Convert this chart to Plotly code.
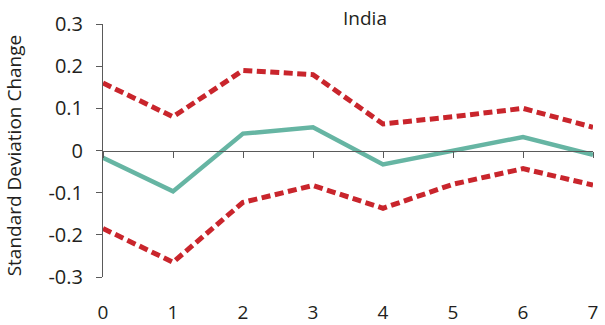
import plotly.graph_objects as go

horizon = [0, 1, 2, 3, 4, 5, 6, 7]
upper = [0.16, 0.08, 0.19, 0.18, 0.063, 0.08, 0.10, 0.055]
mid = [-0.017, -0.097, 0.04, 0.055, -0.033, 0.0, 0.032, -0.01]
lower = [-0.185, -0.265, -0.123, -0.083, -0.137, -0.08, -0.043, -0.082]

ytick_vals = [-0.3, -0.2, -0.1, 0, 0.1, 0.2, 0.3]
ytick_text = ["-0.3", "-0.2", "-0.1", "0", "0.1", "0.2", "0.3"]
xtick_vals = [0, 1, 2, 3, 4, 5, 6, 7]
xtick_text = ["0", "1", "2", "3", "4", "5", "6", "7"]

RED = "#c9252c"
TEAL = "#66b5a3"
AX = "#5a5a5a"
FONT = "Open Sans"

fig = go.Figure()
fig.add_trace(go.Scatter(x=horizon, y=upper, mode="lines",
                         line=dict(color=RED, width=5, dash="9px,4.5px"), hoverinfo="skip"))
fig.add_trace(go.Scatter(x=horizon, y=lower, mode="lines",
                         line=dict(color=RED, width=5, dash="9px,4.5px"), hoverinfo="skip"))
fig.add_trace(go.Scatter(x=horizon, y=mid, mode="lines",
                         line=dict(color=TEAL, width=4.5), hoverinfo="skip"))
# invisible trace to activate the zero-line axis
fig.add_trace(go.Scatter(x=horizon, y=[0] * len(horizon), xaxis="x2", mode="lines",
                         line=dict(width=0), opacity=0, hoverinfo="skip"))

fig.update_layout(
    width=605, height=325,
    margin=dict(l=103, r=12, t=24, b=48),
    paper_bgcolor="white", plot_bgcolor="white",
    showlegend=False,
    font=dict(family=FONT, size=19, color="#231f20"),
    xaxis=dict(range=[0, 7], tickvals=xtick_vals, ticktext=xtick_text,
               showline=False, ticks="outside", ticklen=18,
               tickcolor="rgba(0,0,0,0)", showgrid=False, zeroline=False,
               tickfont=dict(size=19), automargin=False),
    xaxis2=dict(range=[0, 7], overlaying="x", anchor="free", position=0.5,
                tickvals=xtick_vals, showticklabels=False,
                showline=True, linecolor=AX, linewidth=1,
                ticks="outside", ticklen=6, tickcolor=AX, tickwidth=1,
                showgrid=False, zeroline=False, automargin=False),
    yaxis=dict(range=[-0.3, 0.3], tickvals=ytick_vals, ticktext=ytick_text,
               showline=True, linecolor=AX, linewidth=1,
               ticks="outside", ticklen=6, tickcolor=AX, tickwidth=1,
               showgrid=False, zeroline=False, ticklabelstandoff=9,
               tickfont=dict(size=20), automargin=False),
    annotations=[
        dict(text="India", xref="paper", yref="paper", x=0.535, y=1.024,
             xanchor="center", yanchor="middle", showarrow=False,
             font=dict(size=19)),
        dict(text="Standard Deviation Change", xref="paper", yref="paper",
             x=-0.181, y=0.482, textangle=-90, xanchor="center", yanchor="middle",
             showarrow=False, font=dict(size=19)),
    ],
)

fig.write_html("out.html", config={"displayModeBar": False},
               post_script="document.body.style.margin='0';document.body.style.overflow='hidden';")
